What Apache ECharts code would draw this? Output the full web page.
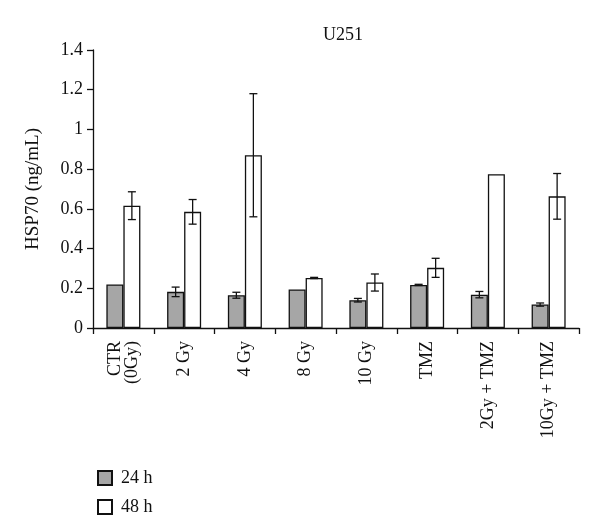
<!DOCTYPE html>
<html><head><meta charset="utf-8">
<script src="https://cdn.jsdelivr.net/npm/echarts@6/dist/echarts.min.js"></script>
<style>html,body{margin:0;padding:0;background:#fff}#c{width:600px;height:530px}</style>
</head><body><div id="c"></div>
<script>
const categories = ['CTR\n(0Gy)', '2 Gy', '4 Gy', '8 Gy', '10 Gy', 'TMZ', '2Gy + TMZ', '10Gy + TMZ'];
const values24 = [0.219, 0.182, 0.165, 0.194, 0.140, 0.217, 0.168, 0.118];
const errors24 = [0, 0.024, 0.015, 0, 0.009, 0.003, 0.016, 0.008];
const values48 = [0.616, 0.585, 0.870, 0.252, 0.229, 0.303, 0.774, 0.663];
const errors48 = [0.070, 0.062, 0.310, 0.003, 0.043, 0.048, 0, 0.115];
const yTicks = [0, 0.2, 0.4, 0.6, 0.8, 1, 1.2, 1.4];

const FONT = 'Liberation Serif';
const BAR_FRAC = 0.28;

function errSeries(vals, errs, side) {
  return {
    type: 'custom',
    silent: true,
    z: 10,
    data: vals.map((v, i) => [i, v, errs[i]]),
    renderItem: function (params, api) {
      const i = api.value(0), v = api.value(1), e = api.value(2);
      if (!e) return null;
      const band = api.size([1, 0])[0];
      const c = api.coord([i, v]);
      const x = c[0] + side * band * BAR_FRAC / 2;
      const yt = api.coord([i, v + e])[1];
      const yb = api.coord([i, v - e])[1];
      const cap = 4;
      const st = { stroke: '#111', lineWidth: 1.3 };
      return {
        type: 'group',
        children: [
          { type: 'line', shape: { x1: x, y1: yt, x2: x, y2: yb }, style: st },
          { type: 'line', shape: { x1: x - cap, y1: yt, x2: x + cap, y2: yt }, style: st },
          { type: 'line', shape: { x1: x - cap, y1: yb, x2: x + cap, y2: yb }, style: st }
        ]
      };
    }
  };
}

const chart = echarts.init(document.getElementById('c'));
chart.setOption({
  animation: false,
  backgroundColor: '#fff',
  textStyle: { fontFamily: FONT, color: '#111' },
  title: {
    text: 'U251', left: 338, top: 21, textAlign: 'center',
    textStyle: { fontFamily: FONT, fontSize: 18, fontWeight: 'normal', color: '#111' }
  },
  legend: {
    orient: 'vertical', left: 92, top: 464,
    itemWidth: 14, itemHeight: 14, itemGap: 11,
    icon: 'rect',
    textStyle: { fontFamily: FONT, fontSize: 18, color: '#111', padding: [0, 0, 0, 4] },
    data: ['24 h', '48 h']
  },
  grid: { left: 93, right: 21, top: 50, bottom: 202 },
  xAxis: {
    type: 'category', data: categories,
    axisLine: { lineStyle: { color: '#111', width: 1.3 } },
    axisTick: { show: true, length: 6, lineStyle: { color: '#111', width: 1.3 } },
    axisLabel: { rotate: 90, fontFamily: FONT, fontSize: 18, color: '#111', margin: 13, lineHeight: 17, interval: 0 }
  },
  yAxis: {
    type: 'value', min: 0, max: 1.4, interval: 0.2,
    name: 'HSP70 (ng/mL)', nameLocation: 'middle', nameGap: 50, nameRotate: 90,
    nameTextStyle: { fontFamily: FONT, fontSize: 19, color: '#111' },
    splitLine: { show: false },
    axisLine: { show: true, lineStyle: { color: '#111', width: 1.3 } },
    axisTick: { show: true, length: 6, lineStyle: { color: '#111', width: 1.3 } },
    axisLabel: {
      fontFamily: FONT, fontSize: 18, color: '#111', margin: 10,
      formatter: v => { const t = yTicks.find(x => Math.abs(x - v) < 1e-9); return t === undefined ? '' : String(t); }
    }
  },
  series: [
    {
      name: '24 h', type: 'bar', data: values24, barWidth: (BAR_FRAC * 100) + '%', barGap: '0%',
      itemStyle: { color: '#a6a6a6', borderColor: '#111', borderWidth: 1.3 }
    },
    {
      name: '48 h', type: 'bar', data: values48, barWidth: (BAR_FRAC * 100) + '%', barGap: '0%',
      itemStyle: { color: '#ffffff', borderColor: '#111', borderWidth: 1.3 }
    },
    errSeries(values24, errors24, -1),
    errSeries(values48, errors48, 1)
  ]
});
</script></body></html>
